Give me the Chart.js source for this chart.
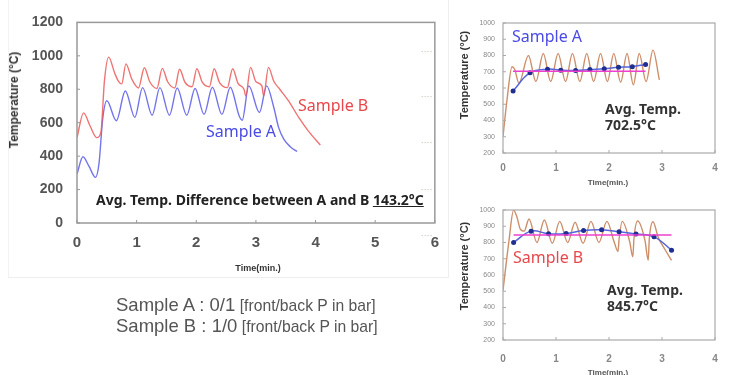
<!DOCTYPE html>
<html>
<head>
<meta charset="utf-8">
<script src="https://cdn.jsdelivr.net/npm/chart.js@4"></script>
<style>
  body { margin: 0; background: #fff; width: 733px; height: 375px; overflow: hidden; position: relative; font-family: "Noto Sans", sans-serif; }
  canvas { position: absolute; }
  .t { position: absolute; white-space: nowrap; line-height: 1; }
  .rot { transform: translate(-50%, -50%) rotate(-90deg); font-weight: bold; color: #333; font-family: "Liberation Sans", Arial, sans-serif; }
  .panel { position: absolute; left: 8px; top: 0; width: 439px; height: 277px; border-right: 1px solid #eee; border-bottom: 1px solid #eee; border-left: 1px solid #f2f2f2; }
  .dots { position: absolute; left: 421px; font-size: 9px; color: #c8c8c8; letter-spacing: 0.5px; line-height: 1; }
</style>
</head>
<body>
<div class="panel"></div>
<div class="dots" style="top:47px">····</div>
<div class="dots" style="top:92px">····</div>
<div class="dots" style="top:138px">····</div>
<div class="dots" style="top:185px">····</div>
<div class="dots" style="top:231px">····</div>
<canvas id="mainChart" style="left:0;top:0" width="450" height="280"></canvas>
<canvas id="chartA" style="left:460px;top:0" width="273" height="190"></canvas>
<canvas id="chartB" style="left:460px;top:185px" width="273" height="190"></canvas>

<div class="t rot" style="left:14px;top:100px;font-size:12px">Temperature (°C)</div>
<div class="t" style="left:258px;top:268px;transform:translate(-50%,-50%);font-size:9px;font-weight:bold;color:#333;font-family:'Liberation Sans',Arial,sans-serif">Time(min.)</div>
<div class="t" style="left:298px;top:97px;font-size:16px;color:#e8484c">Sample B</div>
<div class="t" style="left:206px;top:123px;font-size:16px;color:#4a4ae6">Sample A</div>
<div class="t" style="left:96px;top:193px;font-size:14px;font-weight:bold;color:#222">Avg. Temp. Difference between A and B <span style="text-decoration:underline">143.2°C</span></div>
<div class="t" style="left:116px;top:296px;color:#555;font-family:'Liberation Sans',Arial,sans-serif"><span style="font-size:18.5px">Sample A : 0/1</span> <span style="font-size:15.7px">[front/back P in bar]</span></div>
<div class="t" style="left:116px;top:317px;color:#555;font-family:'Liberation Sans',Arial,sans-serif"><span style="font-size:18.5px">Sample B : 1/0</span> <span style="font-size:15.7px">[front/back P in bar]</span></div>

<div class="t rot" style="left:464px;top:75px;font-size:11px">Temperature (°C)</div>
<div class="t" style="left:608px;top:183px;transform:translate(-50%,-50%);font-size:8px;font-weight:bold;color:#555;font-family:'Liberation Sans',Arial,sans-serif">Time(min.)</div>
<div class="t" style="left:512px;top:28px;font-size:16px;color:#4a4ae6">Sample A</div>
<div class="t" style="left:605px;top:102px;font-size:14px;font-weight:bold;color:#333">Avg. Temp.</div>
<div class="t" style="left:605px;top:118px;font-size:14px;font-weight:bold;color:#333">702.5°C</div>

<div class="t rot" style="left:464px;top:266px;font-size:11px">Temperature (°C)</div>
<div class="t" style="left:608px;top:373px;transform:translate(-50%,-50%);font-size:8px;font-weight:bold;color:#555;font-family:'Liberation Sans',Arial,sans-serif">Time(min.)</div>
<div class="t" style="left:513px;top:249px;font-size:16px;color:#e8484c">Sample B</div>
<div class="t" style="left:607px;top:283px;font-size:14px;font-weight:bold;color:#333">Avg. Temp.</div>
<div class="t" style="left:607px;top:299px;font-size:14px;font-weight:bold;color:#333">845.7°C</div>

<script>
// main chart: temperature history of both samples
const timeB = [0, 0.11, 0.22, 0.33, 0.40, 0.46, 0.53, 0.63, 0.69, 0.75, 0.82, 0.92, 1.03, 1.13, 1.22, 1.34, 1.43, 1.52, 1.64, 1.72, 1.81, 1.93, 2.01, 2.10, 2.22, 2.30, 2.39, 2.52, 2.61, 2.70, 2.80, 2.83, 2.91, 3.0, 3.10, 3.13, 3.21, 3.30, 3.40, 3.55, 3.72, 3.88, 4.08];
const tempB = [511, 659, 580, 511, 540, 850, 992, 899, 850, 832, 952, 860, 808, 929, 845, 805, 925, 845, 808, 920, 842, 815, 923, 842, 815, 923, 840, 810, 923, 835, 800, 760, 931, 845, 820, 760, 931, 848, 800, 729, 630, 550, 467];
const timeA = [0, 0.10, 0.20, 0.31, 0.37, 0.43, 0.50, 0.66, 0.81, 0.97, 1.10, 1.26, 1.39, 1.55, 1.68, 1.84, 1.98, 2.13, 2.27, 2.43, 2.57, 2.72, 2.77, 2.88, 3.06, 3.18, 3.30, 3.38, 3.47, 3.58, 3.69];
const tempA = [293, 396, 340, 273, 360, 620, 731, 612, 790, 632, 810, 645, 810, 645, 808, 645, 805, 650, 812, 650, 812, 640, 615, 820, 661, 820, 691, 572, 500, 455, 428];

// right top: sample A with averaged points
const timeRawA = [0, 0.08, 0.17, 0.22, 0.30, 0.48, 0.62, 0.76, 0.90, 1.04, 1.18, 1.31, 1.45, 1.58, 1.71, 1.84, 1.97, 2.09, 2.22, 2.34, 2.46, 2.57, 2.70, 2.83, 2.95];
const tempRawA = [302, 540, 731, 715, 630, 800, 640, 812, 640, 812, 640, 812, 640, 812, 640, 812, 640, 812, 635, 812, 620, 812, 640, 833, 650];
const timeAvgA = [0.19, 0.51, 0.84, 1.09, 1.37, 1.64, 1.91, 2.18, 2.44, 2.69];
const tempAvgA = [582, 694, 716, 710, 708, 714, 718, 727, 731, 745];
const meanA = 702.5;

// right bottom: sample B with averaged points
const timeRawB = [0, 0.11, 0.20, 0.26, 0.33, 0.40, 0.49, 0.64, 0.78, 0.93, 1.07, 1.22, 1.36, 1.51, 1.66, 1.81, 1.96, 2.10, 2.17, 2.19, 2.25, 2.39, 2.45, 2.47, 2.54, 2.68, 2.74, 2.76, 2.83, 2.93, 3.05, 3.18];
const tempRawB = [505, 804, 1000, 960, 880, 870, 945, 800, 938, 795, 930, 800, 925, 795, 930, 800, 930, 800, 745, 820, 930, 805, 712, 820, 932, 810, 690, 820, 928, 830, 760, 690];
const timeAvgB = [0.2, 0.53, 0.86, 1.19, 1.52, 1.86, 2.19, 2.51, 2.85, 3.18];
const tempAvgB = [800, 870, 854, 856, 874, 878, 866, 852, 835, 753];
const meanB = 845.7;

const pts = (xs, ys) => xs.map((x, i) => ({ x: x, y: ys[i] }));

// draws the box round the plot and the short inner ticks
const framePlugin = {
  id: "frame",
  afterDraw(chart, args, opts) {
    const a = chart.chartArea, ctx = chart.ctx;
    ctx.save();
    ctx.strokeStyle = opts.color;
    ctx.lineWidth = opts.width;
    ctx.strokeRect(a.left, a.top, a.right - a.left, a.bottom - a.top);
    ctx.lineWidth = 1;
    chart.scales.x.ticks.forEach(t => {
      const px = chart.scales.x.getPixelForValue(t.value);
      ctx.beginPath(); ctx.moveTo(px, a.bottom); ctx.lineTo(px, a.bottom - 3); ctx.stroke();
    });
    chart.scales.y.ticks.forEach(t => {
      const py = chart.scales.y.getPixelForValue(t.value);
      ctx.beginPath(); ctx.moveTo(a.left, py); ctx.lineTo(a.left + 3, py); ctx.stroke();
    });
    ctx.restore();
  }
};

function axes(xMax, yMin, yMax, yStep, yWidth, xHeight, tickFontX, tickFontY, tickColor, padX, padY) {
  return {
    x: {
      type: "linear", min: 0, max: xMax,
      ticks: { stepSize: 1, color: tickColor, font: tickFontX, padding: padX },
      grid: { display: false, drawTicks: false }, border: { display: false },
      afterFit: s => { s.height = xHeight; }
    },
    y: {
      min: yMin, max: yMax,
      ticks: { stepSize: yStep, color: tickColor, font: tickFontY, padding: padY, callback: v => String(v) },
      grid: { display: false, drawTicks: false }, border: { display: false },
      afterFit: s => { s.width = yWidth; }
    }
  };
}

const common = {
  responsive: false,
  animation: false,
  plugins: { legend: { display: false }, tooltip: { enabled: false } },
  elements: { point: { radius: 0 } }
};

new Chart(document.getElementById("mainChart"), {
  type: "line",
  data: {
    datasets: [
      { data: pts(timeB, tempB), borderColor: "rgba(236,90,90,0.85)", borderWidth: 1.4, cubicInterpolationMode: "monotone" },
      { data: pts(timeA, tempA), borderColor: "rgba(80,80,230,0.8)", borderWidth: 1.4, cubicInterpolationMode: "monotone" }
    ]
  },
  options: Object.assign({}, common, {
    layout: { padding: { top: 21, right: 13, left: 0, bottom: 0 } },
    scales: axes(6, 0, 1200, 200, 77, 57,
      { family: "Liberation Sans", size: 15, weight: "bold" },
      { family: "Liberation Sans", size: 14, weight: "bold" },
      "#555", 11, 14),
    plugins: Object.assign({}, common.plugins, { frame: { color: "#999", width: 1.5 } })
  }),
  plugins: [framePlugin]
});

function sideChart(id, timeRaw, tempRaw, timeAvg, tempAvg, mean, top, padX) {
  new Chart(document.getElementById(id), {
    type: "line",
    data: {
      datasets: [
        { data: pts([timeAvg[0], timeAvg[timeAvg.length - 1]], [mean, mean]), borderColor: "#ee3fd0", borderWidth: 1.5 },
        { data: pts(timeAvg, tempAvg), borderColor: "#5566dd", borderWidth: 1.5, tension: 0.4,
          pointRadius: 2.5, pointBackgroundColor: "#1f2f8f", pointBorderWidth: 0 },
        { data: pts(timeRaw, tempRaw), borderColor: "rgba(200,130,90,0.9)", borderWidth: 1.4, cubicInterpolationMode: "monotone" }
      ]
    },
    options: Object.assign({}, common, {
      layout: { padding: { top: top, right: 18, left: 0, bottom: 0 } },
      scales: axes(4, 200, 1000, 100, 43, 190 - top - 130,
        { family: "Liberation Sans", size: 10, weight: "bold" },
        { family: "Liberation Sans", size: 7 },
        "#888", padX, 8),
      plugins: Object.assign({}, common.plugins, { frame: { color: "#aaa", width: 1.2 } })
    }),
    plugins: [framePlugin]
  });
}

sideChart("chartA", timeRawA, tempRawA, timeAvgA, tempAvgA, meanA, 23, 9);
sideChart("chartB", timeRawB, tempRawB, timeAvgB, tempAvgB, meanB, 25, 13);
</script>
</body>
</html>
